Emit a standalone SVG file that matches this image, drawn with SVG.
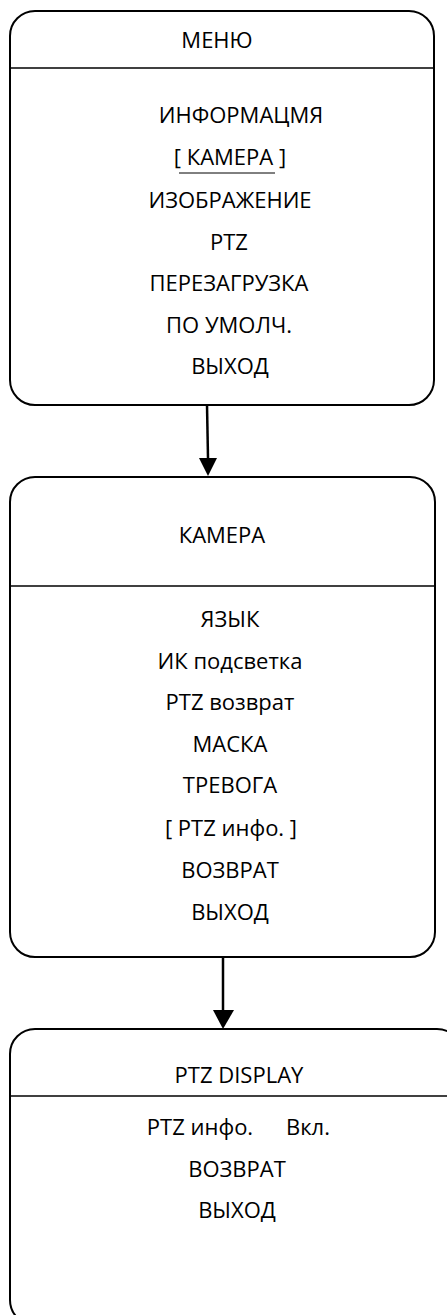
<svg xmlns="http://www.w3.org/2000/svg" width="447" height="1315" viewBox="0 0 447 1315">
<style>
.box{fill:#fff;stroke:#000;stroke-width:2}
.div{stroke:#000;stroke-width:1.5}
text{font-family:"Open Sans","Noto Sans",sans-serif;font-size:22px;fill:#000;text-anchor:middle}
.conn{stroke:#000;stroke-width:2.5;fill:none}
</style>
<g id="connectors">
<line class="conn" x1="207" y1="405" x2="208" y2="458"/>
<path d="M199,458 L217,458 L208,476 Z" fill="#000"/>
<line class="conn" x1="223" y1="957" x2="223" y2="1010"/>
<path d="M213,1010 L234,1010 L223,1029 Z" fill="#000"/>
</g>
<g id="menu">
<rect class="box" x="10" y="11" width="424" height="394" rx="25" ry="25"/>
<line class="div" x1="10" y1="68" x2="434" y2="68"/>
<text x="217" y="48">МЕНЮ</text>
<text x="241" y="123">ИНФОРМАЦМЯ</text>
<text x="230" y="165">[ КАМЕРА ]</text>
<line x1="179" y1="173" x2="275" y2="173" stroke="#000" stroke-width="1"/>
<text x="230" y="208">ИЗОБРАЖЕНИЕ</text>
<text x="229" y="250">PTZ</text>
<text x="229" y="291">ПЕРЕЗАГРУЗКА</text>
<text x="229" y="333">ПО УМОЛЧ.</text>
<text x="230" y="374">ВЫХОД</text>
</g>
<g id="camera">
<rect class="box" x="10" y="477" width="425" height="480" rx="25" ry="25"/>
<line class="div" x1="10" y1="586" x2="435" y2="586"/>
<text x="222" y="543">КАМЕРА</text>
<text x="230" y="627">ЯЗЫК</text>
<text x="230" y="669">ИК подсветка</text>
<text x="230" y="710">PTZ возврат</text>
<text x="230" y="752">МАСКА</text>
<text x="230" y="793">ТРЕВОГА</text>
<text x="231" y="836">[ PTZ инфо. ]</text>
<text x="230" y="878">ВОЗВРАТ</text>
<text x="230" y="920">ВЫХОД</text>
</g>
<g id="ptz-display">
<rect class="box" x="10" y="1029" width="452" height="296" rx="25" ry="25"/>
<line class="div" x1="10" y1="1096" x2="447" y2="1096"/>
<text x="239" y="1083">PTZ DISPLAY</text>
<text x="200" y="1135">PTZ инфо.</text>
<text x="308" y="1135">Вкл.</text>
<text x="237" y="1177">ВОЗВРАТ</text>
<text x="237" y="1218">ВЫХОД</text>
</g>
</svg>
